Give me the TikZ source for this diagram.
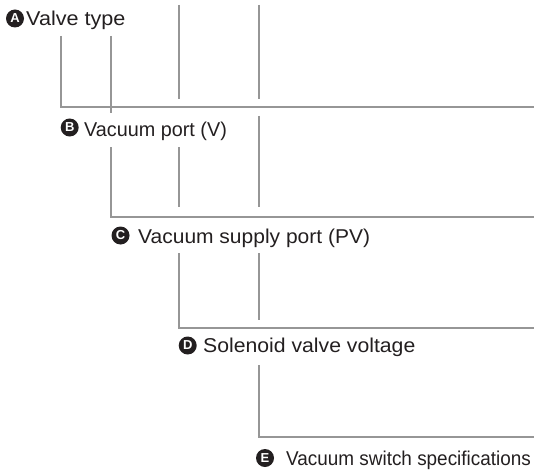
\documentclass[tikz,border=0pt]{standalone}
\usepackage{fontspec}
\setmainfont{Liberation Sans}
\definecolor{linegray}{RGB}{150,150,150}
\definecolor{labeltext}{RGB}{35,31,32}
\tikzset{
  conn/.style={draw=linegray, line width=2pt},
  lbl/.style={anchor=base west, inner sep=0pt, text=labeltext, font=\fontsize{20}{24}\selectfont},
  badge/.style={circle, fill=labeltext, text=white, inner sep=0pt, minimum size=18pt, font=\fontsize{13}{13}\selectfont\bfseries},
}
\begin{document}
\begin{tikzpicture}[x=1pt, y=-1pt]
\useasboundingbox (0,0) rectangle (534,473);
% labels
\node[badge] (ba) at (15,18.5) {A};
\node[lbl] (la) at (26,26) {\scalebox{1.08}[1]{Valve type}};
\node[badge] (bb) at (69.7,127.5) {B};
\node[lbl] (lb) at (84,136) {\scalebox{0.99}[1]{Vacuum port (V)}};
\node[badge] (bc) at (120.5,235.5) {C};
\node[lbl] (lc) at (138,243) {\scalebox{1.05}[1]{Vacuum supply port (PV)}};
\node[badge] (bd) at (187.7,345.5) {D};
\node[lbl] (ld) at (203,352) {\scalebox{1.06}[1]{Solenoid valve voltage}};
\node[badge] (be) at (265,458) {E};
\node[lbl] (le) at (286,465) {\scalebox{0.946}[1]{Vacuum switch specifications}};
% coordinates
\coordinate (a1) at (61,36);   \coordinate (a2) at (61,107);   \coordinate (a3) at (534,107);
\coordinate (b1) at (111,36);  \coordinate (b2) at (111,113);
\coordinate (b3) at (111,147); \coordinate (b4) at (111,217);  \coordinate (b5) at (534,217);
\coordinate (c1) at (179,5);   \coordinate (c2) at (179,99);
\coordinate (c3) at (179,147); \coordinate (c4) at (179,207);
\coordinate (c5) at (179,253); \coordinate (c6) at (179,328);  \coordinate (c7) at (534,328);
\coordinate (d1) at (259,5);   \coordinate (d2) at (259,99);
\coordinate (d3) at (259,116); \coordinate (d4) at (259,207);
\coordinate (d5) at (259,253); \coordinate (d6) at (259,320);
\coordinate (e1) at (259,365); \coordinate (e2) at (259,437);  \coordinate (e3) at (534,437);
% connectors
\draw[conn] (a1) -- (a2) -- (a3);
\draw[conn] (b1) -- (b2);
\draw[conn] (b3) -- (b4) -- (b5);
\draw[conn] (c1) -- (c2);
\draw[conn] (c3) -- (c4);
\draw[conn] (c5) -- (c6) -- (c7);
\draw[conn] (d1) -- (d2);
\draw[conn] (d3) -- (d4);
\draw[conn] (d5) -- (d6);
\draw[conn] (e1) -- (e2) -- (e3);
\end{tikzpicture}
\end{document}
